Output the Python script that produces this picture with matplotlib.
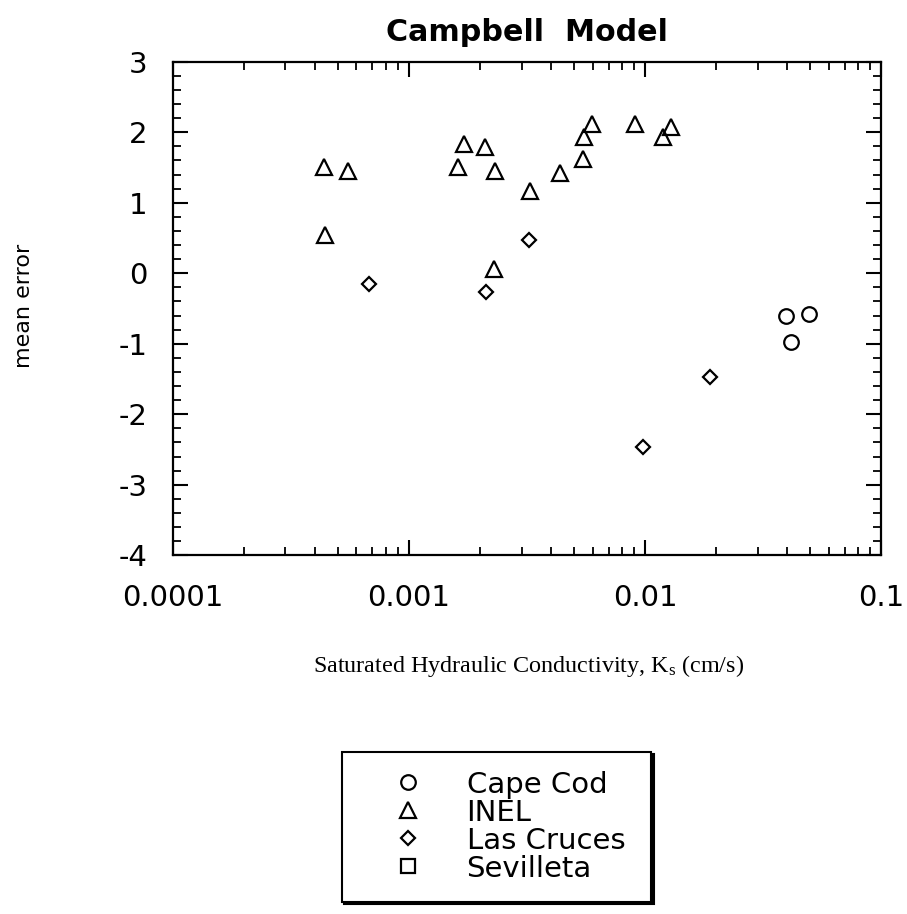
import matplotlib
matplotlib.use("Agg")
import matplotlib.pyplot as plt
from matplotlib.ticker import FixedLocator, FixedFormatter, MultipleLocator, LogLocator, NullFormatter

plt.rcParams['font.family'] = ['DejaVu Sans']
plt.rcParams['axes.unicode_minus'] = False
plt.rcParams['mathtext.fontset'] = 'custom'
plt.rcParams['mathtext.rm'] = 'Liberation Serif'
plt.rcParams['mathtext.it'] = 'Liberation Serif:italic'

# ---- data ----
cape_cod_x = [0.0395, 0.0494, 0.0415]
cape_cod_y = [-0.60, -0.58, -0.98]

inel_x = [4.36e-4, 5.52e-4, 4.40e-4, 1.61e-3, 1.71e-3, 2.11e-3, 2.31e-3, 2.29e-3,
          3.27e-3, 4.35e-3, 5.46e-3, 5.49e-3, 5.98e-3, 9.10e-3, 1.19e-2, 1.29e-2]
inel_y = [1.50, 1.45, 0.54, 1.50, 1.83, 1.79, 1.45, 0.06,
          1.17, 1.42, 1.62, 1.93, 2.12, 2.12, 1.93, 2.08]

las_cruces_x = [6.78e-4, 2.13e-3, 3.24e-3, 1.89e-2, 9.8e-3]
las_cruces_y = [-0.16, -0.26, 0.47, -1.47, -2.47]

sevilleta_x = []
sevilleta_y = []

series_names = ["Cape Cod", "INEL", "Las Cruces", "Sevilleta"]
x_tick_values = [0.0001, 0.001, 0.01, 0.1]
x_tick_labels = ["0.0001", "0.001", "0.01", "0.1"]
y_tick_values = [-4, -3, -2, -1, 0, 1, 2, 3]

# ---- figure ----
W, H = 907, 914
fig = plt.figure(figsize=(W / 100, H / 100), dpi=100)
ax = fig.add_axes([172.7 / W, 1 - 555.2 / H, (881.3 - 172.7) / W, (555.2 - 61.7) / H])

common = dict(linestyle='none', mfc='none', mec='black', mew=1.6)
ax.plot(cape_cod_x, cape_cod_y, marker='o', ms=10.5, label=series_names[0], **common)
ax.plot(inel_x, inel_y, marker='^', ms=11, label=series_names[1], **common)
ax.plot(las_cruces_x, las_cruces_y, marker='D', ms=7.6, label=series_names[2], **common)
ax.plot(sevilleta_x, sevilleta_y, marker='s', ms=9.5, label=series_names[3], **common)

ax.set_xscale('log')
ax.set_xlim(x_tick_values[0], x_tick_values[-1])
ax.set_ylim(-4, 3)

ax.xaxis.set_major_locator(FixedLocator(x_tick_values))
ax.xaxis.set_major_formatter(FixedFormatter(x_tick_labels))
ax.xaxis.set_minor_locator(LogLocator(base=10, subs=range(2, 10), numticks=20))
ax.xaxis.set_minor_formatter(NullFormatter())
ax.yaxis.set_major_locator(FixedLocator(y_tick_values))
ax.yaxis.set_minor_locator(MultipleLocator(0.2))

for s in ax.spines.values():
    s.set_linewidth(1.6)

ax.tick_params(which='both', direction='in', top=True, right=True, colors='black')
ax.tick_params(which='major', length=11, width=1.5, labelsize=21)
ax.tick_params(which='minor', length=6, width=1.3)
ax.tick_params(axis='y', which='major', pad=18)
ax.tick_params(axis='x', which='major', pad=21)

# ---- texts ----
fig.text(527 / W, 1 - 41 / H, "Campbell  Model", ha='center', va='baseline',
         fontsize=21.7, fontweight='bold')
fig.text(24 / W, 1 - 306 / H, "mean error", rotation=90, ha='center', va='center',
         fontsize=16)
fig.text(529 / W, 1 - 666 / H, r"Saturated Hydraulic Conductivity, K$_\mathrm{s}$ (cm/s)",
         ha='center', va='center', fontsize=17.4, family='Liberation Serif')

# ---- legend ----
lx0, lx1, ly0, ly1 = 341.7, 651.0, 751.7, 905.0
leg = ax.legend(loc='upper left',
                bbox_to_anchor=(lx0 / W, 1 - ly1 / H, (lx1 - lx0) / W, (ly1 - ly0) / H),
                bbox_transform=fig.transFigure, mode='expand', borderaxespad=0,
                fontsize=21, handlelength=3.24, handletextpad=0.39, borderpad=0.65,
                labelspacing=0.0, frameon=True, fancybox=False,
                shadow={'color': 'black', 'alpha': 1}, edgecolor='black',
                framealpha=1, numpoints=1)
leg.get_frame().set_linewidth(1.5)

fig.savefig("out.png", dpi=100)
